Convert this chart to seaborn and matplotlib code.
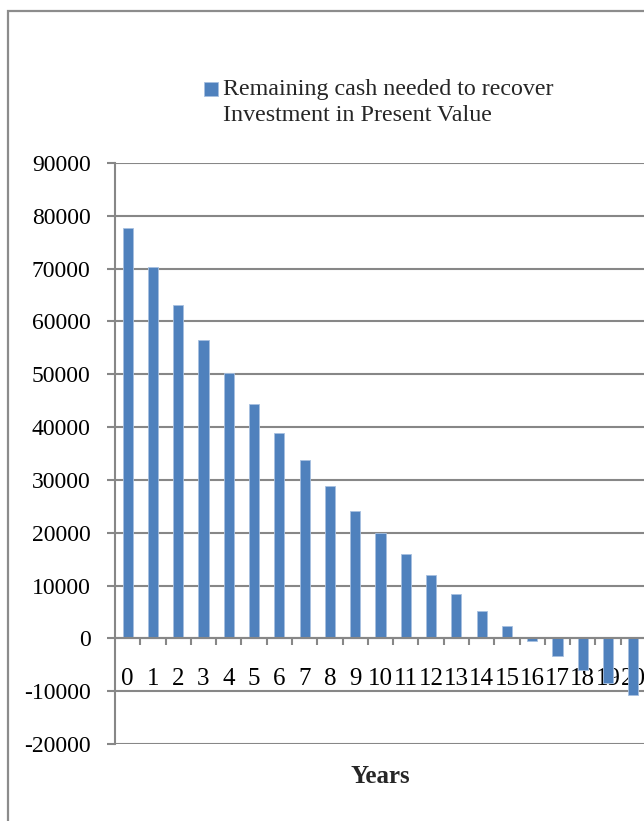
import matplotlib
matplotlib.use("Agg")
import matplotlib.pyplot as plt
import seaborn as sns
import pandas as pd
from matplotlib.patches import Rectangle
from matplotlib.container import BarContainer
from matplotlib.legend_handler import HandlerPatch, update_from_first_child

years = list(range(21))
remaining = [77600, 70300, 63100, 56400, 50250, 44400, 38900, 33700, 28800, 24200,
             20000, 16000, 12050, 8450, 5100, 2270, -570, -3400, -5900, -8450, -10800]
series_name = "Remaining cash needed to recover\nInvestment in Present Value"
y_ticks = list(range(-20000, 90001, 10000))
x_title = "Years"

sns.set_theme(style="white")
plt.rcParams['font.family'] = ['Liberation Serif', 'DejaVu Serif']
plt.rcParams['axes.unicode_minus'] = False

df = pd.DataFrame({"Year": [str(y) for y in years], "Value": remaining})

W, H = 644, 821
fig = plt.figure(figsize=(W / 100, H / 100), dpi=100)
ax = fig.add_axes([115 / W, 1 - 744 / H, 531 / W, 581 / H])

grid_c = '#878787'
sns.barplot(data=df, x="Year", y="Value", color='#4F81BD', width=0.4, ax=ax,
            saturation=1, edgecolor='#A7C0E0', linewidth=0.6, label=series_name,
            zorder=3)

ax.set_ylim(-20000, 90000)
ax.set_xlim(-0.5, 20.5)
ax.set_yticks(y_ticks)
ax.set_yticklabels([str(v) for v in y_ticks], fontsize=17)
for v in y_ticks:
    ax.axhline(v, color=grid_c, lw=1.5, zorder=1)

for s in ['top', 'right']:
    ax.spines[s].set_visible(False)
ax.spines['left'].set_color(grid_c)
ax.spines['left'].set_linewidth(1.5)
ax.spines['bottom'].set_position(('data', 0))
ax.spines['bottom'].set_color(grid_c)
ax.spines['bottom'].set_linewidth(1.5)
ax.spines['bottom'].set_zorder(4)

ax.set_xticks(years)
ax.set_xticklabels([str(y) for y in years], fontsize=18)
ax.set_xticks([y + 0.5 for y in years], minor=True)
ax.tick_params(axis='x', which='major', length=0, pad=21, colors='black')
ax.tick_params(axis='x', which='minor', length=5, width=1.5, color=grid_c, direction='out', bottom=True)
ax.tick_params(axis='y', which='major', length=6, width=1.5, color=grid_c, direction='out',
               pad=11.5, left=True, labelcolor='black')

ax.set_ylabel("")
ax.set_xlabel(x_title, fontsize=18, fontweight='bold')
ax.xaxis.set_label_coords(0.5, -0.056)
ax.xaxis.label.set_va('center')

leg = ax.get_legend()
if leg is not None:
    leg.remove()
handles, labels = ax.get_legend_handles_labels()


def top_line_patch(legend, orig_handle, xdescent, ydescent, width, height, fontsize):
    return Rectangle((-xdescent, -ydescent + 9.6), width, height)


fig_leg = fig.legend(handles, labels, loc='upper left', bbox_to_anchor=(192 / W, 1 - 67 / H),
                     frameon=False, prop={'family': 'Liberation Serif', 'size': 17.3},
                     handlelength=0.6, handleheight=0.5, handletextpad=0.17, borderpad=0,
                     handler_map={BarContainer: HandlerPatch(patch_func=top_line_patch,
                                                             update_func=update_from_first_child)})
for t in fig_leg.get_texts():
    t.set_linespacing(1.32)

fig.add_artist(Rectangle((8 / W, -0.1), 1.2, 1 - 11 / H + 0.1, transform=fig.transFigure,
                         fill=False, edgecolor='#8c8c8c', lw=1.6))

fig.savefig("out.png", dpi=100)
